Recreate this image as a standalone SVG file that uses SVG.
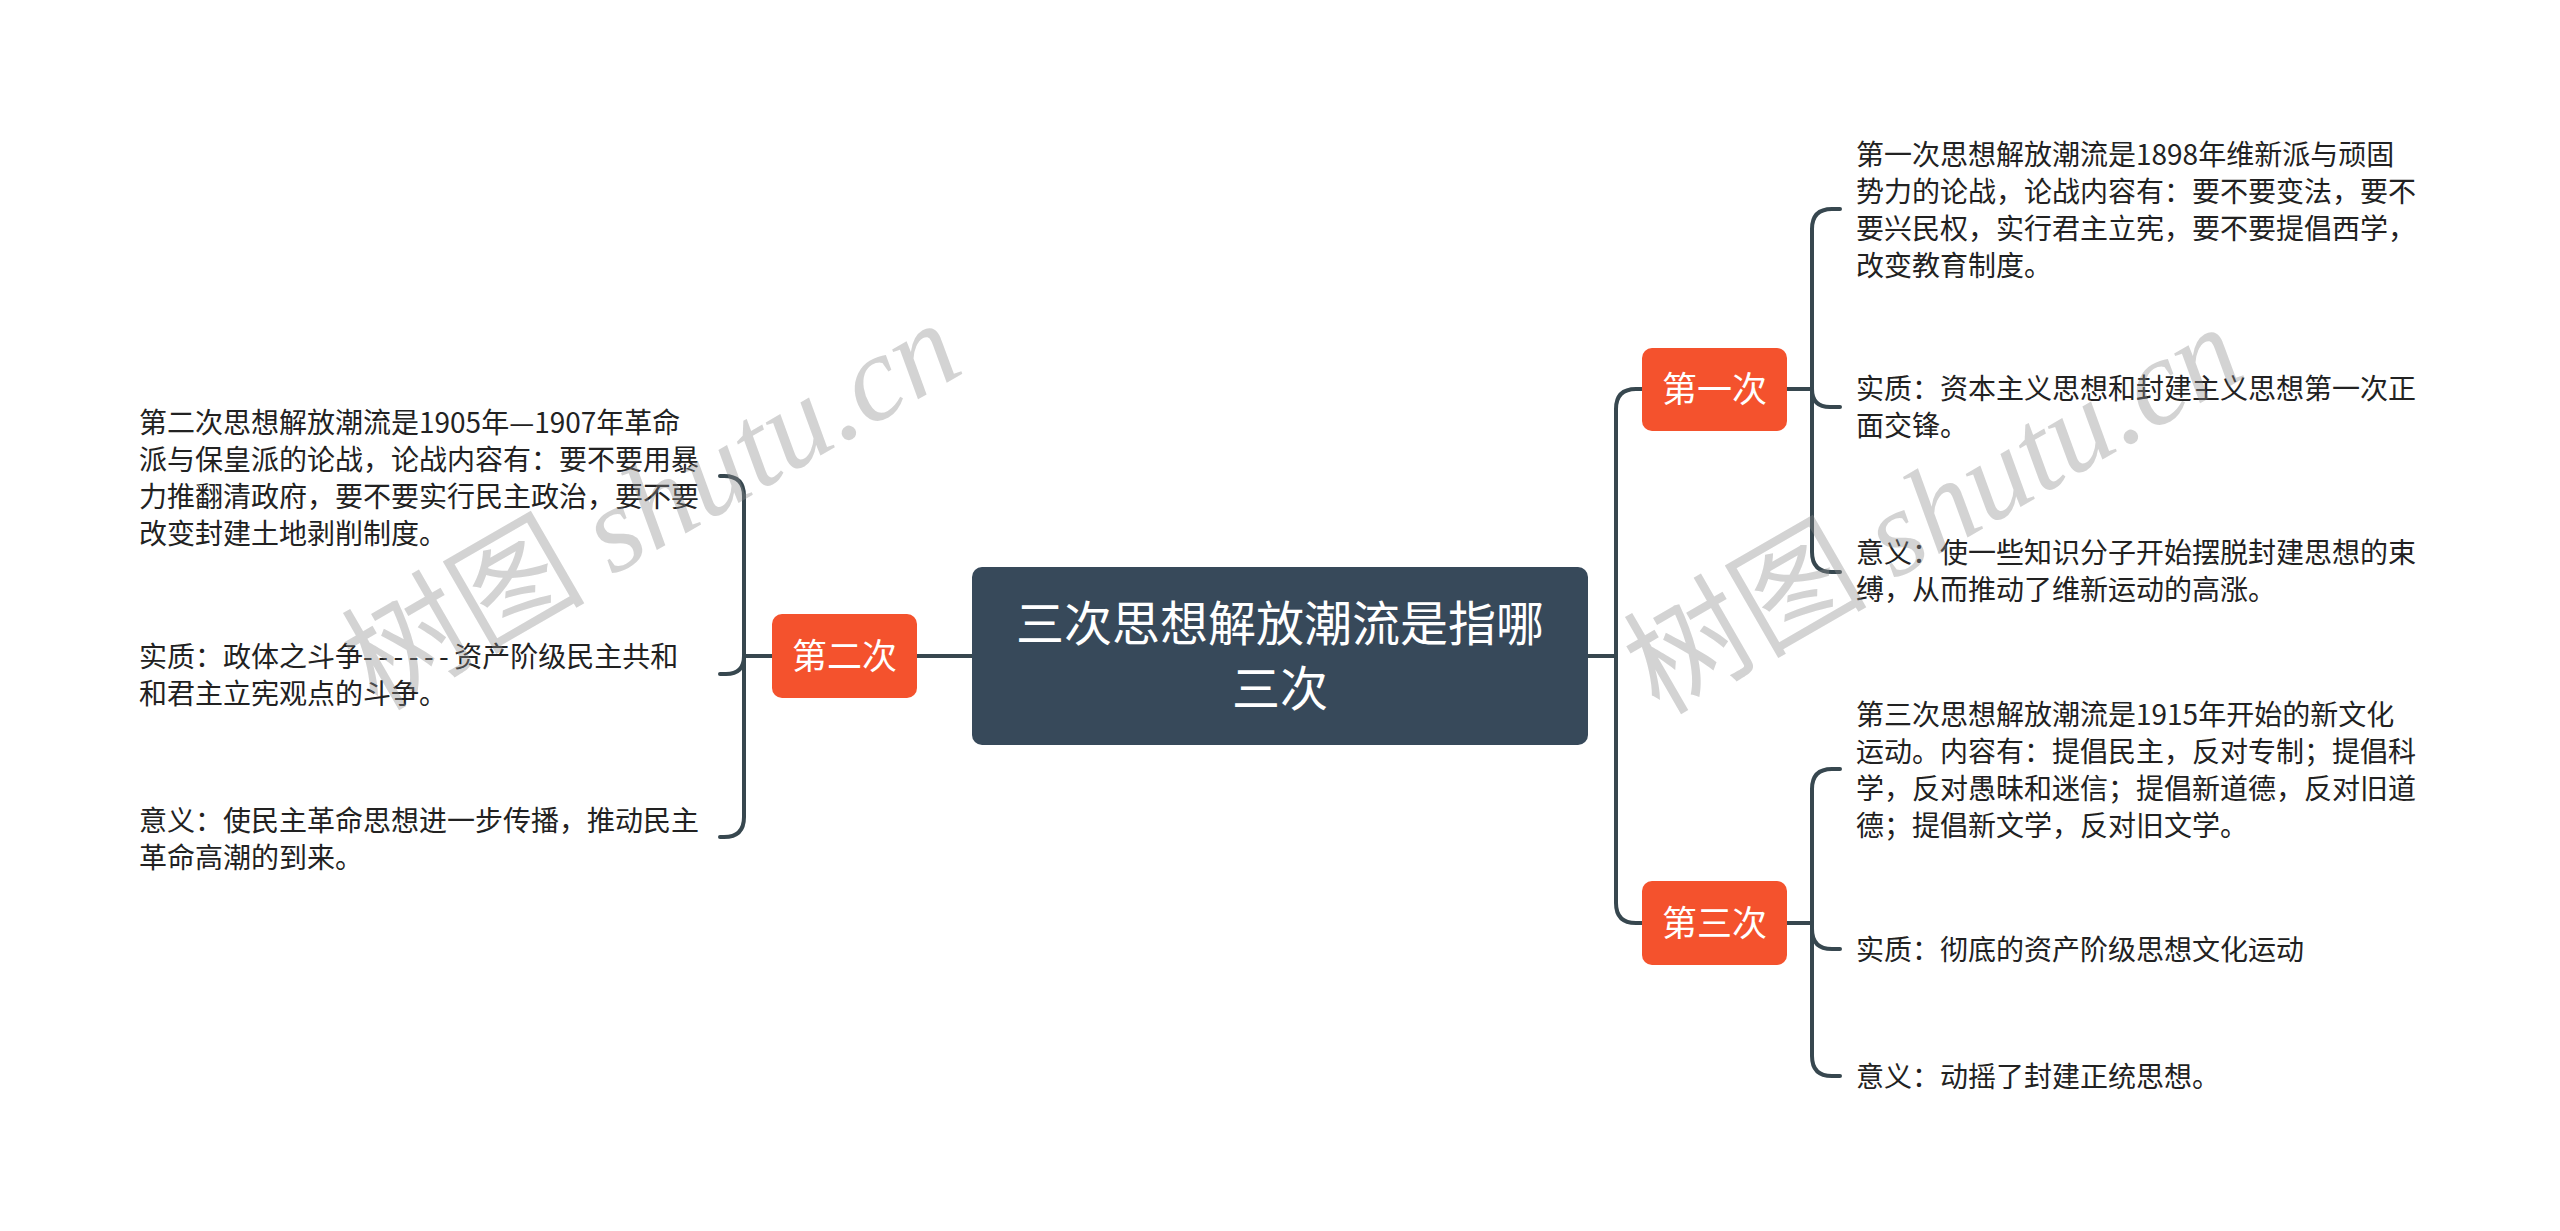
<svg xmlns="http://www.w3.org/2000/svg" width="2560" height="1231" viewBox="0 0 2560 1231">
<style>
.bg{fill:#ffffff}
.conn{fill:none;stroke:#37474f;stroke-width:4;stroke-linecap:round;stroke-linejoin:round}
.root{fill:#37495a}
.topic{fill:#f4522d}
.rt{font-family:"Noto Sans CJK SC",sans-serif;font-size:48px;fill:#ffffff;text-anchor:middle}
.tt{font-family:"Noto Sans CJK SC",sans-serif;font-size:35px;fill:#ffffff;text-anchor:middle}
.ct{font-family:"Noto Sans CJK SC",sans-serif;font-size:28px;fill:#222222}
.wm{fill:#8c8c8c;fill-opacity:0.38;font-size:122px;text-anchor:middle}
.wmc{font-family:"Noto Sans CJK SC",sans-serif}
.wml{font-family:"Liberation Serif",serif;font-style:italic}
</style>
<rect class="bg" x="0" y="0" width="2560" height="1231"/>
<g id="connectors">
<path class="conn" d="M972,656 H917"/>
<path class="conn" d="M1588,656 H1616"/>
<path class="conn" d="M1642,389 H1636 Q1616,389 1616,409 V903 Q1616,923 1636,923 H1642"/>
<path class="conn" d="M1787,389 H1812 V229 Q1812,209 1832,209 H1840"/>
<path class="conn" d="M1812,389 Q1812,407 1830,407 H1840"/>
<path class="conn" d="M1812,389 V552 Q1812,572 1832,572 H1840"/>
<path class="conn" d="M1787,923 H1812 V789 Q1812,769 1832,769 H1840"/>
<path class="conn" d="M1812,923 V929 Q1812,949 1832,949 H1840"/>
<path class="conn" d="M1812,923 V1056 Q1812,1076 1832,1076 H1840"/>
<path class="conn" d="M772,656 H744 V496 Q744,476 724,476 H720"/>
<path class="conn" d="M744,656 Q744,674 726,674 H720"/>
<path class="conn" d="M744,656 V817 Q744,837 724,837 H720"/>
</g>
<g id="root">
<rect class="root" x="972" y="567" width="616" height="178" rx="10"/>
<text class="rt" x="1280" y="641">三次思想解放潮流是指哪</text>
<text class="rt" x="1280" y="706">三次</text>
</g>
<g id="topic1">
<rect class="topic" x="1642" y="348" width="145" height="83" rx="10"/>
<text class="tt" x="1714.5" y="402">第一次</text>
</g>
<g id="topic2">
<rect class="topic" x="772" y="614" width="145" height="84" rx="10"/>
<text class="tt" x="844.5" y="669">第二次</text>
</g>
<g id="topic3">
<rect class="topic" x="1642" y="881" width="145" height="84" rx="10"/>
<text class="tt" x="1714.5" y="936">第三次</text>
</g>
<g id="t1c1">
<text class="ct" x="1856" y="165">第一次思想解放潮流是1898年维新派与顽固</text>
<text class="ct" x="1856" y="202">势力的论战，论战内容有：要不要变法，要不</text>
<text class="ct" x="1856" y="239">要兴民权，实行君主立宪，要不要提倡西学，</text>
<text class="ct" x="1856" y="276">改变教育制度。</text>
</g>
<g id="t1c2">
<text class="ct" x="1856" y="399">实质：资本主义思想和封建主义思想第一次正</text>
<text class="ct" x="1856" y="436">面交锋。</text>
</g>
<g id="t1c3">
<text class="ct" x="1856" y="563">意义：使一些知识分子开始摆脱封建思想的束</text>
<text class="ct" x="1856" y="600">缚，从而推动了维新运动的高涨。</text>
</g>
<g id="t3c1">
<text class="ct" x="1856" y="725">第三次思想解放潮流是1915年开始的新文化</text>
<text class="ct" x="1856" y="762">运动。内容有：提倡民主，反对专制；提倡科</text>
<text class="ct" x="1856" y="799">学，反对愚昧和迷信；提倡新道德，反对旧道</text>
<text class="ct" x="1856" y="836">德；提倡新文学，反对旧文学。</text>
</g>
<g id="t3c2">
<text class="ct" x="1856" y="960">实质：彻底的资产阶级思想文化运动</text>
</g>
<g id="t3c3">
<text class="ct" x="1856" y="1087">意义：动摇了封建正统思想。</text>
</g>
<g id="t2c1">
<text class="ct" x="139" y="433">第二次思想解放潮流是1905年—1907年革命</text>
<text class="ct" x="139" y="470">派与保皇派的论战，论战内容有：要不要用暴</text>
<text class="ct" x="139" y="507">力推翻清政府，要不要实行民主政治，要不要</text>
<text class="ct" x="139" y="544">改变封建土地剥削制度。</text>
</g>
<g id="t2c2">
<text class="ct" x="139" y="667">实质：政体之斗争<tspan letter-spacing="5.5">------</tspan>资产阶级民主共和</text>
<text class="ct" x="139" y="704">和君主立宪观点的斗争。</text>
</g>
<g id="t2c3">
<text class="ct" x="139" y="831">意义：使民主革命思想进一步传播，推动民主</text>
<text class="ct" x="139" y="868">革命高潮的到来。</text>
</g>
<g id="watermark">
<text class="wm" transform="translate(651,505) rotate(-30)" x="0" y="42"><tspan class="wmc">树图 </tspan><tspan class="wml">shutu.cn</tspan></text>
<text class="wm" transform="translate(1933,509) rotate(-30)" x="0" y="42"><tspan class="wmc">树图 </tspan><tspan class="wml">shutu.cn</tspan></text>
</g>
</svg>
